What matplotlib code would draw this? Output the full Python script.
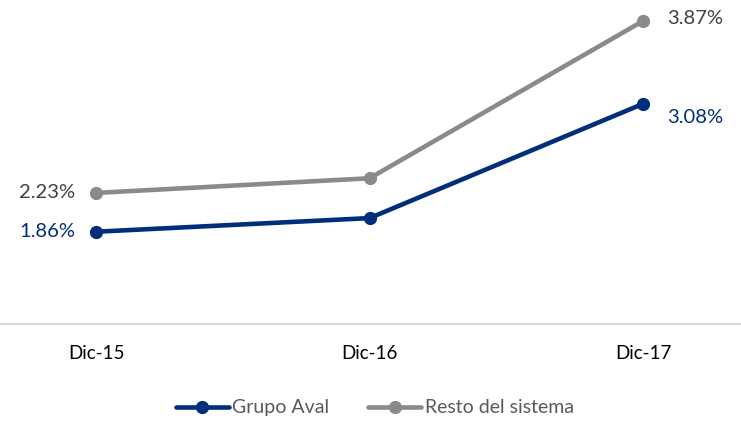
import matplotlib.pyplot as plt

plt.rcParams['font.family'] = ['Lato', 'DejaVu Sans']

categories = ['Dic-15', 'Dic-16', 'Dic-17']
grupo_aval = [1.86, 1.99, 3.08]
resto_sistema = [2.23, 2.37, 3.87]

navy = '#002E7A'
gray = '#8A8A8A'

fig = plt.figure(figsize=(7.41, 4.21), dpi=100)
ax = fig.add_axes([0, 0.2304, 1, 0.7696])

x = list(range(len(categories)))
ax.plot(x, grupo_aval, color=navy, lw=3.3, marker='o', ms=8.5,
        solid_capstyle='round', label='Grupo Aval', zorder=3)
ax.plot(x, resto_sistema, color=gray, lw=3.3, marker='o', ms=8.5,
        solid_capstyle='round', label='Resto del sistema', zorder=2)

# data labels, first and last point only
lbl = 14.5
ax.annotate('%.2f%%' % grupo_aval[0], (x[0], grupo_aval[0]), xytext=(-15, 0),
            textcoords='offset points', ha='right', va='center', color=navy, fontsize=lbl)
ax.annotate('%.2f%%' % resto_sistema[0], (x[0], resto_sistema[0]), xytext=(-15, 0),
            textcoords='offset points', ha='right', va='center', color='#404040', fontsize=lbl)
ax.annotate('%.2f%%' % grupo_aval[-1], (x[-1], grupo_aval[-1]), xytext=(17, -10),
            textcoords='offset points', ha='left', va='center', color=navy, fontsize=lbl)
ax.annotate('%.2f%%' % resto_sistema[-1], (x[-1], resto_sistema[-1]), xytext=(17, 2),
            textcoords='offset points', ha='left', va='center', color='#404040', fontsize=lbl)

ax.set_xlim(-0.351, 2.358)
ax.set_ylim(0.98, 4.07)
ax.set_yticks([])
ax.set_xticks(x)
ax.set_xticklabels(categories, fontsize=13.5, color='black')
ax.tick_params(axis='x', length=0, pad=15)
for s in ['top', 'left', 'right']:
    ax.spines[s].set_visible(False)
ax.spines['bottom'].set_color('#D9D9D9')
ax.spines['bottom'].set_linewidth(1.5)

fig.legend(loc='center', bbox_to_anchor=(0.506, 0.031), ncol=2, frameon=False,
           fontsize=14, labelcolor='#595959', handlelength=2.7, handletextpad=0.2,
           columnspacing=2.0)

fig.savefig('out.png', dpi=100)
